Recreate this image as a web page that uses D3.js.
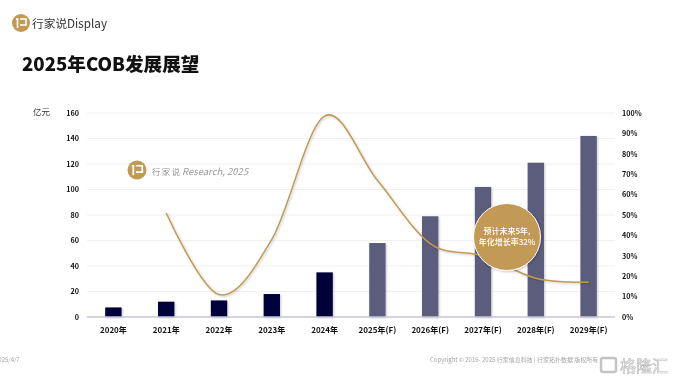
<!DOCTYPE html>
<html>
<head>
<meta charset="utf-8">
<script src="https://cdn.jsdelivr.net/npm/d3@7"></script>
<style>
body { margin: 0; background: #fff; overflow: hidden; }
svg { display: block; font-family: "Noto Sans CJK SC", "Open Sans", sans-serif; filter: blur(0.3px); }
</style>
</head>
<body>
<div id="chart"></div>
<script>
const years = ['2020年', '2021年', '2022年', '2023年', '2024年', '2025年(F)', '2026年(F)', '2027年(F)', '2028年(F)', '2029年(F)'];
const revenue = [7.5, 12, 13, 18, 35, 58, 79, 102, 121, 142];
// growth rate starts at 2021
const growthYears = years.slice(1);
const growth = [51, 11, 38, 98.5, 67, 36, 30, 19, 17];
const leftTicks = [0, 20, 40, 60, 80, 100, 120, 140, 160];
const rightTicks = [0, 10, 20, 30, 40, 50, 60, 70, 80, 90, 100];

const width = 674;
const height = 381;
const margin = { top: 113, right: 59, bottom: 64, left: 87 };
const gold = '#c29a54';

const svg = d3.select('#chart').append('svg')
    .attr('width', width)
    .attr('height', height);

const defs = svg.append('defs');
const shadow = defs.append('filter').attr('id', 'shadow')
    .attr('x', '-30%').attr('y', '-30%').attr('width', '160%').attr('height', '160%');
shadow.append('feDropShadow')
    .attr('dx', 1).attr('dy', 1).attr('stdDeviation', 1)
    .attr('flood-color', '#000').attr('flood-opacity', 0.22);

const x = d3.scaleBand()
    .domain(years)
    .range([margin.left, width - margin.right])
    .paddingInner(0.69)
    .paddingOuter(0.345);

const yLeft = d3.scaleLinear()
    .domain([0, 160])
    .range([height - margin.bottom, margin.top]);

const yRight = d3.scaleLinear()
    .domain([0, 100])
    .range([height - margin.bottom, margin.top]);

// grid lines
svg.append('g')
    .selectAll('line')
    .data(leftTicks.slice(1))
    .join('line')
    .attr('x1', margin.left)
    .attr('x2', width - margin.right)
    .attr('y1', d => yLeft(d))
    .attr('y2', d => yLeft(d))
    .attr('stroke', '#f0f0f0')
    .attr('stroke-width', 1);

// bars, forecast years are lighter
svg.append('g')
    .selectAll('rect')
    .data(revenue)
    .join('rect')
    .attr('x', (d, i) => x(years[i]))
    .attr('y', d => yLeft(d))
    .attr('width', x.bandwidth())
    .attr('height', d => yLeft(0) - yLeft(d))
    .attr('fill', (d, i) => years[i].includes('(F)') ? '#5b5b7c' : '#03053a')
    .attr('filter', 'url(#shadow)');

// baseline
svg.append('line')
    .attr('x1', margin.left)
    .attr('x2', width - margin.right)
    .attr('y1', yLeft(0))
    .attr('y2', yLeft(0))
    .attr('stroke', '#c5c4d8')
    .attr('stroke-width', 1.5);

const line = d3.line()
    .x((d, i) => x(growthYears[i]) + x.bandwidth() / 2)
    .y(d => yRight(d))
    .curve(d3.curveCatmullRom.alpha(0));

svg.append('path')
    .datum(growth)
    .attr('d', line)
    .attr('fill', 'none')
    .attr('stroke', gold)
    .attr('stroke-width', 1.5)
    .attr('filter', 'url(#shadow)');

// axes
const axisLeft = svg.append('g')
    .attr('transform', `translate(${margin.left - 8}, 0)`)
    .call(d3.axisLeft(yLeft).tickValues(leftTicks).tickSize(0).tickPadding(0));
const axisRight = svg.append('g')
    .attr('transform', `translate(${width - margin.right + 7}, 0)`)
    .call(d3.axisRight(yRight).tickValues(rightTicks).tickSize(0).tickPadding(0).tickFormat(d => d + '%'));
const axisBottom = svg.append('g')
    .attr('transform', `translate(0, ${height - margin.bottom + 6})`)
    .call(d3.axisBottom(x).tickSize(0).tickPadding(4));

[axisLeft, axisRight].forEach(axis => {
    axis.select('.domain').remove();
    axis.selectAll('text')
        .style('font-family', '"Noto Sans CJK SC", "Open Sans", sans-serif')
        .style('font-size', '7.2px')
        .style('font-weight', 700)
        .attr('fill', '#111');
});
axisBottom.select('.domain').remove();
axisBottom.selectAll('text')
    .style('font-family', '"Noto Sans CJK SC", "Open Sans", sans-serif')
    .style('font-size', '8px')
    .style('font-weight', 700)
    .attr('fill', '#111');

svg.append('text')
    .attr('x', 33).attr('y', 115)
    .attr('font-size', 8.5)
    .attr('fill', '#333')
    .text('亿元');

// logo mark, used in the header and the watermark
const drawLogo = (cx, cy, r) => {
    const g = svg.append('g').attr('transform', `translate(${cx}, ${cy}) scale(${r / 9})`);
    g.append('circle').attr('r', 9).attr('fill', gold);
    g.append('path')
        .attr('d', 'M-5,-4 L-2.5,-4 M-3.5,-4 L-3.5,5 M-1,-4 L5,-4 L5,2 L-1,2')
        .attr('fill', 'none')
        .attr('stroke', '#fff')
        .attr('stroke-width', 1.6);
};

drawLogo(21, 23, 9);
svg.append('text')
    .attr('x', 32).attr('y', 28)
    .attr('font-size', 11.7)
    .attr('fill', '#333')
    .text('行家说Display');

svg.append('text')
    .attr('x', 22).attr('y', 71)
    .attr('font-size', 18.6)
    .attr('font-weight', 900)
    .attr('fill', '#111')
    .text('2025年COB发展展望');

drawLogo(137, 170, 9.5);
svg.append('text')
    .attr('x', 152).attr('y', 175)
    .attr('font-size', 8.5)
    .attr('letter-spacing', 1.2)
    .attr('fill', '#999')
    .text('行家说');
svg.append('text')
    .attr('x', 182).attr('y', 175)
    .attr('font-size', 9.5)
    .attr('font-style', 'italic')
    .attr('fill', '#999')
    .text('Research, 2025');

// callout circle
svg.append('circle')
    .attr('cx', 507).attr('cy', 237).attr('r', 33.5)
    .attr('fill', gold)
    .attr('stroke', '#fff')
    .attr('stroke-width', 1)
    .attr('filter', 'url(#shadow)');
svg.append('text')
    .attr('text-anchor', 'middle')
    .attr('fill', '#fff')
    .attr('font-size', 8)
    .attr('font-weight', 500)
    .selectAll('tspan')
    .data(['预计未来5年,', '年化增长率32%'])
    .join('tspan')
    .attr('x', 507)
    .attr('y', (d, i) => 234 + i * 11)
    .text(d => d);

// footer
svg.append('text')
    .attr('x', -5).attr('y', 362)
    .attr('font-size', 6)
    .attr('fill', '#a5a5a5')
    .text('2025/4/7');
svg.append('text')
    .attr('x', 430).attr('y', 362)
    .attr('font-size', 6)
    .attr('fill', '#a5a5a5')
    .text('Copyright © 2016- 2025 行家信息科技 | 行家拓扑数据 版权所有');

// image watermark
svg.append('rect')
    .attr('x', 601).attr('y', 358).attr('width', 15).attr('height', 14)
    .attr('rx', 2)
    .attr('fill', 'none')
    .attr('stroke', '#c4c4c4')
    .attr('stroke-width', 2.5);
svg.append('text')
    .attr('x', 620).attr('y', 372)
    .attr('font-size', 16)
    .attr('fill', '#fff')
    .attr('stroke', '#b5b5b5')
    .attr('stroke-width', 0.6)
    .text('格隆汇');
</script>
</body>
</html>
